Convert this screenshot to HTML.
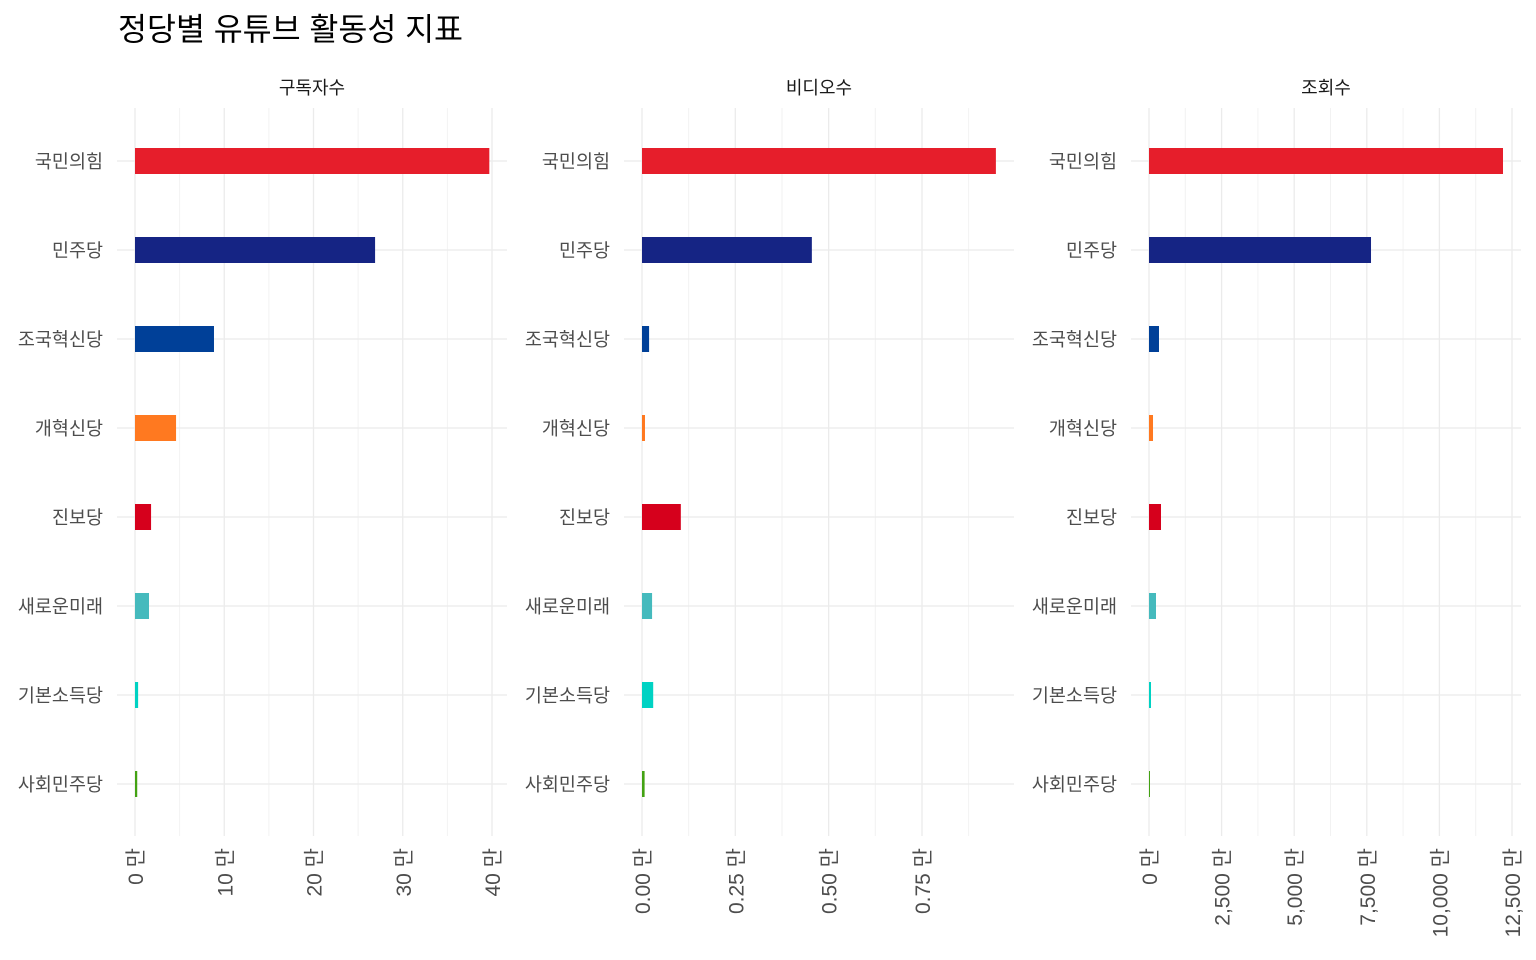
<!DOCTYPE html>
<html><head><meta charset="utf-8"><style>
body{margin:0;background:#fff;}
svg{display:block;font-family:"Liberation Sans","Noto Sans CJK KR",sans-serif;}
</style></head><body>
<svg id="chart" width="1536" height="960" xmlns="http://www.w3.org/2000/svg">
<text x="118" y="40" font-size="31.5" fill="#000">정당별 유튜브 활동성 지표</text>
</svg>
<script>
const parties = ["국민의힘","민주당","조국혁신당","개혁신당","진보당","새로운미래","기본소득당","사회민주당"];
const partyColors = ["#E61E2B","#152484","#004098","#FF7920","#D6001C","#45BABD","#00D2C3","#43A213"];
const subscribers = [39.7,26.9,8.85,4.6,1.8,1.57,0.35,0.25];
const videos = [0.948,0.455,0.019,0.008,0.104,0.027,0.03,0.007];
const views = [12190,7645,344,138,413,241,69,25];
const subTicks = [0,10,20,30,40];
const vidTicks = [0,0.25,0.5,0.75];
const viewTicks = [0,2500,5000,7500,10000,12500];
const subTickLabels = ["0 만","10 만","20 만","30 만","40 만"];
const vidTickLabels = ["0.00 만","0.25 만","0.50 만","0.75 만"];
const viewTickLabels = ["0 만","2,500 만","5,000 만","7,500 만","10,000 만","12,500 만"];
const panelTitles = ["구독자수","비디오수","조회수"];

const svg = document.getElementById('chart');
const NS = "http://www.w3.org/2000/svg";
function mk(tag, attrs){const e=document.createElementNS(NS,tag);for(const k in attrs)e.setAttribute(k,attrs[k]);svg.appendChild(e);return e;}

const panels = [
  {left:117,right:507,x0:135,scale:8.925,values:subscribers,ticks:subTicks,labels:subTickLabels,minorStep:5,minorMax:45,name:'subscribers'},
  {left:624,right:1014,x0:642,scale:373.3,values:videos,ticks:vidTicks,labels:vidTickLabels,minorStep:0.125,minorMax:0.95,name:'videos'},
  {left:1131,right:1521,x0:1149,scale:0.02904,values:views,ticks:viewTicks,labels:viewTickLabels,minorStep:1250,minorMax:12800,name:'views'}
];
const yTop=108, yBot=836, rowY0=161, rowStep=89, barH=26;
function yPos(i){return rowY0+i*rowStep;}

panels.forEach((p,pi)=>{
  const xs = v=>p.x0+v*p.scale;
  for(let v=p.minorStep; v<p.minorMax; v+=p.minorStep*2){
    const x=xs(v); if(x>p.right) break;
    const l=mk('line',{x1:x,x2:x,y1:yTop,y2:yBot,stroke:'#f2f2f2','stroke-width':1});
    
    
  }
  p.ticks.forEach(v=>{
    const x=xs(v);
    const l=mk('line',{x1:x,x2:x,y1:yTop,y2:yBot,stroke:'#ebebeb','stroke-width':1.3});
    
    
  });
  parties.forEach((_,i)=>{
    const l=mk('line',{x1:p.left,x2:p.right,y1:yPos(i),y2:yPos(i),stroke:'#ebebeb','stroke-width':1.3});
    
    
  });
  const st=mk('text',{x:(p.left+p.right)/2,y:94,'font-size':18,fill:'#1a1a1a','text-anchor':'middle'});
  st.textContent=panelTitles[pi];
  
  
  parties.forEach((name,i)=>{
    const t=mk('text',{x:p.left-14,y:yPos(i)+7,'font-size':18.5,fill:'#4d4d4d','text-anchor':'end'});
    t.textContent=name;
    
    
  });
  p.values.forEach((v,i)=>{
    const w=Math.max(xs(v)-p.x0,1);
    const r=mk('rect',{x:p.x0,y:yPos(i)-barH/2,width:w,height:barH,fill:partyColors[i]});
    
    
  });
  p.ticks.forEach((v,i)=>{
    const x=xs(v)+8, y=848;
    const t=mk('text',{x:x,y:y,'font-size':21,fill:'#4d4d4d','text-anchor':'end',transform:`rotate(-90 ${x} ${y})`});
    t.textContent=p.labels[i];
    
    
  });
});
</script>
</body></html>
